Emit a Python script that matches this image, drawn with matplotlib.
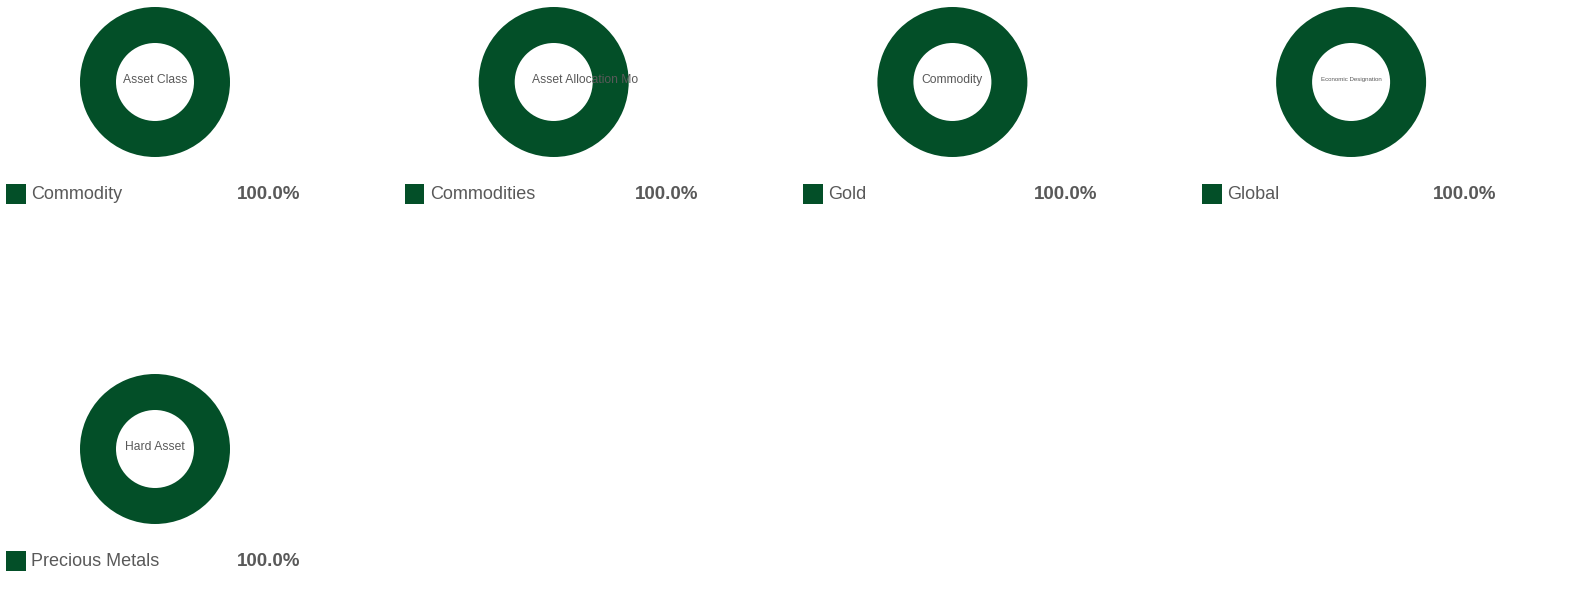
import matplotlib
matplotlib.use("Agg")
import matplotlib.pyplot as plt

plt.rcParams['font.family'] = ['Liberation Sans', 'DejaVu Sans']

titles = ["Asset Class", "Asset Allocation Model", "Commodity", "Economic Designation", "Hard Asset"]
categories = ["Commodity", "Commodities", "Gold", "Global", "Precious Metals"]
values = [100.0, 100.0, 100.0, 100.0, 100.0]
title_sizes = [8.7, 8.7, 8.7, 4.4, 8.7]
# horizontal anchoring of the centre labels (offset from donut centre, alignment)
title_anchor = [(0, "center"), (-22, "left"), (0, "center"), (0, "center"), (0, "center")]

GREEN = "#034f28"
GRAY = "#595959"

W, H = 1591, 603
fig = plt.figure(figsize=(W / 100, H / 100), dpi=100)
ax = fig.add_axes([0, 0, 1, 1])

col_w = 398.7
row_h = 367
for i, (t, c, v, ts, (dx, ha)) in enumerate(zip(titles, categories, values, title_sizes, title_anchor)):
    col, row = i % 4, i // 4
    x0 = col * col_w
    y0 = row * row_h
    cx, cy = x0 + 155, y0 + 82
    ax.pie([v], colors=[GREEN], radius=75, center=(cx, cy), startangle=90,
           counterclock=False, wedgeprops=dict(width=36, linewidth=0))
    txt = ax.text(cx + dx, cy - 2, t, ha=ha, va="center", fontsize=ts, color=GRAY)
    clip = plt.Rectangle((x0 + 0, y0), 239, 170, transform=ax.transData,
                         fill=False, visible=False)
    ax.add_patch(clip)
    txt.set_clip_path(clip)
    txt.set_clip_on(True)
    # legend
    ax.add_patch(plt.Rectangle((x0 + 6, y0 + 184), 19.5, 19.5, color=GREEN, lw=0))
    ax.text(x0 + 31, y0 + 194.5, c, ha="left", va="center", fontsize=13, color=GRAY)
    ax.text(x0 + 300, y0 + 194.5, f"{v:.1f}%", ha="right", va="center",
            fontsize=13.5, color=GRAY, fontweight="bold")

ax.set_xlim(0, W)
ax.set_ylim(H, 0)
ax.set_aspect("auto")
ax.axis("off")
fig.savefig("out.png", dpi=100)
